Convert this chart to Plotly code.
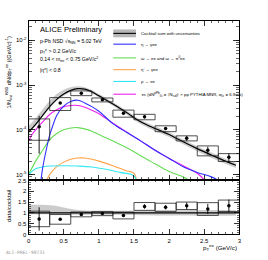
import plotly.graph_objects as go

# ---------------- data ----------------
bin_lo = [0.0, 0.3, 0.6, 0.9, 1.2, 1.5, 1.8, 2.1, 2.4, 2.7]
bin_hi = [0.3, 0.6, 0.9, 1.2, 1.5, 1.8, 2.1, 2.4, 2.7, 3.0]
pt_center = [0.15, 0.45, 0.75, 1.05, 1.35, 1.65, 1.95, 2.25, 2.55, 2.85]
data_val = [1.17e-4, 3.98e-4, 6.6e-4, 4.68e-4, 2.34e-4, 1.95e-4, 1.07e-4, 6.5e-5, 3.5e-5, 2.45e-5]
stat_rel = [0.75, 0.05, 0.04, 0.04, 0.06, 0.08, 0.08, 0.12, 0.20, 0.22]
sys_rel = [0.50, 0.32, 0.12, 0.10, 0.18, 0.14, 0.15, 0.13, 0.25, 0.20]

ratio_val = [0.72, 0.70, 0.93, 0.97, 0.88, 1.30, 1.26, 1.33, 1.18, 1.33]

cocktail_x = [0.0, 0.1, 0.2, 0.3, 0.4, 0.5, 0.6, 0.7, 0.8, 0.9, 1.0, 1.2, 1.4, 1.6, 1.8, 2.0, 2.2, 2.4, 2.6, 2.8, 2.95]
cocktail_y = [8.9e-5, 1.32e-4, 2.1e-4, 3.3e-4, 4.8e-4, 6.3e-4, 7.6e-4, 8.3e-4, 8.1e-4, 7.1e-4, 5.75e-4,
              3.8e-4, 2.4e-4, 1.5e-4, 1.07e-4, 7.9e-5, 5.4e-5, 3.8e-5, 2.75e-5, 2.0e-5, 1.62e-5]
cocktail_unc_up = [0.38, 0.38, 0.38, 0.36, 0.32, 0.25, 0.18, 0.13, 0.11, 0.10, 0.10,
                   0.10, 0.10, 0.11, 0.12, 0.12, 0.12, 0.13, 0.13, 0.13, 0.13]
cocktail_unc_dn = [0.06, 0.06, 0.06, 0.07, 0.07, 0.08, 0.08, 0.08, 0.08, 0.08, 0.08,
                   0.09, 0.10, 0.11, 0.12, 0.12, 0.12, 0.13, 0.13, 0.13, 0.13]

eta_x = [0.17, 0.2, 0.25, 0.3, 0.35, 0.4, 0.5, 0.6, 0.7, 0.8, 0.9, 1.0, 1.2, 1.4, 1.6, 1.8, 2.0, 2.2, 2.4, 2.6, 2.69]
eta_y = [6.3e-6, 1.4e-5, 3.5e-5, 7.6e-5, 1.32e-4, 2.1e-4, 3.4e-4, 4.3e-4, 4.6e-4, 4.0e-4, 3.3e-4, 2.6e-4,
         1.38e-4, 8.7e-5, 5.6e-5, 3.5e-5, 2.3e-5, 1.5e-5, 1.12e-5, 8.9e-6, 7.6e-6]

omega_x = [0.0, 0.1, 0.2, 0.3, 0.4, 0.5, 0.6, 0.7, 0.8, 0.9, 1.0, 1.2, 1.4, 1.6, 1.8, 2.0, 2.2, 2.3]
omega_y = [1.0e-5, 2.0e-5, 3.5e-5, 6.0e-5, 8.3e-5, 1.0e-4, 1.1e-4, 1.12e-4, 1.05e-4, 9.3e-5, 7.9e-5,
           5.6e-5, 4.0e-5, 2.6e-5, 1.74e-5, 1.17e-5, 8.9e-6, 7.1e-6]

etap_x = [0.25, 0.3, 0.35, 0.4, 0.5, 0.6, 0.7, 0.8, 0.9, 1.0, 1.2, 1.4, 1.5, 1.56]
etap_y = [7.1e-6, 1.0e-5, 1.26e-5, 1.51e-5, 1.9e-5, 2.2e-5, 2.34e-5, 2.34e-5, 2.2e-5, 2.0e-5,
          1.58e-5, 1.2e-5, 1.07e-5, 4.0e-6]

rho_x = [0.0, 0.1, 0.2, 0.3, 0.5, 0.7, 0.9, 1.1, 1.3, 1.5, 1.56]
rho_y = [1.0e-5, 1.35e-5, 1.48e-5, 1.55e-5, 1.58e-5, 1.55e-5, 1.48e-5, 1.32e-5, 1.12e-5, 9.3e-6, 4.0e-6]

ccbar_x = [0.0, 0.05, 0.1, 0.2, 0.3, 0.4, 0.5, 0.6, 0.7, 0.8, 0.9, 1.0, 1.2, 1.4, 1.6, 1.8, 2.0, 2.2, 2.4, 2.5]
ccbar_y = [5.6e-5, 7.9e-5, 1.0e-4, 1.5e-4, 2.2e-4, 2.8e-4, 3.3e-4, 3.5e-4, 3.5e-4, 3.2e-4, 2.75e-4,
           2.3e-4, 1.4e-4, 8.9e-5, 5.6e-5, 3.5e-5, 2.3e-5, 1.58e-5, 1.07e-5, 7.6e-6]

legend_labels = [
    "Cocktail sum with uncertainties",
    "\u03b7 \u2192 \u03b3ee",
    "\u03c9 \u2192 ee and \u03c9 \u2192 \u03c0<sup>0</sup>ee",
    "\u03b7' \u2192 \u03b3ee",
    "\u03c1 \u2192 ee",
    "c\u0305c (dN<sup>pPb</sup><sub>c\u0305c</sub> = \u27e8N<sub>coll</sub>\u27e9 \u00d7 pp PYTHIA MNR, \u03c3<sub>c\u0305c</sub> = 6.9mb)",
]
info_lines = [
    "p-Pb NSD \u221as<sub>NN</sub> = 5.02 TeV",
    "p<sub>T</sub><sup>e</sup> > 0.2 GeV/<i>c</i>",
    "0.14 < m<sub>ee</sub> < 0.75 GeV/<i>c</i><sup>2</sup>",
    "|\u03b7<sup>e</sup>| < 0.8",
]

# ---------------- styles ----------------
W, H = 268, 260
FONT = "Liberation Sans, Arial, sans-serif"
C_ETA = "#3030ff"
C_OMEGA = "#66dd55"
C_ETAP = "#ffa24a"
C_RHO = "#33e8f0"
C_CC = "#ee22ee"
C_BAND = "rgba(185,185,185,0.75)"


def px_x(p):
    return p / W


def px_y(p):
    return 1 - p / H


fig = go.Figure()

# cocktail band (top)
fig.add_trace(go.Scatter(x=cocktail_x, y=[v * (1 + u) for v, u in zip(cocktail_y, cocktail_unc_up)],
                         mode="lines", line=dict(width=0, shape="spline"), hoverinfo="skip", showlegend=False,
                         xaxis="x", yaxis="y"))
fig.add_trace(go.Scatter(x=cocktail_x, y=[v * (1 - u) for v, u in zip(cocktail_y, cocktail_unc_dn)],
                         mode="lines", line=dict(width=0, shape="spline"), fill="tonexty", fillcolor=C_BAND,
                         hoverinfo="skip", showlegend=False, xaxis="x", yaxis="y"))

# components
for xs, ys, col in [(omega_x, omega_y, C_OMEGA), (etap_x, etap_y, C_ETAP), (rho_x, rho_y, C_RHO),
                    (ccbar_x, ccbar_y, C_CC), (eta_x, eta_y, C_ETA)]:
    fig.add_trace(go.Scatter(x=xs, y=ys, mode="lines", line=dict(color=col, width=1.1, shape="spline"),
                             showlegend=False, xaxis="x", yaxis="y"))

# cocktail sum line
fig.add_trace(go.Scatter(x=cocktail_x, y=cocktail_y, mode="lines", line=dict(color="black", width=1.2, shape="spline"),
                         showlegend=False, xaxis="x", yaxis="y"))


def boxes(vals, rels):
    bx, by = [], []
    for lo, hi, v, r in zip(bin_lo, bin_hi, vals, rels):
        y0, y1 = v * (1 - r), v * (1 + r)
        bx += [lo, hi, hi, lo, lo, None]
        by += [y0, y0, y1, y1, y0, None]
    return bx, by


# systematic boxes top
bx, by = boxes(data_val, sys_rel)
fig.add_trace(go.Scatter(x=bx, y=by, mode="lines", line=dict(color="#222222", width=0.8),
                         showlegend=False, xaxis="x", yaxis="y"))
# data points top
fig.add_trace(go.Scatter(x=pt_center, y=data_val, mode="markers",
                         marker=dict(color="black", size=3.5, symbol="circle"),
                         error_y=dict(type="data", array=[v * r for v, r in zip(data_val, stat_rel)],
                                      color="black", thickness=0.9, width=0),
                         showlegend=False, xaxis="x", yaxis="y"))

# ratio band
fig.add_trace(go.Scatter(x=cocktail_x, y=[1 + u for u in cocktail_unc_up], mode="lines",
                         line=dict(width=0, shape="spline"),
                         hoverinfo="skip", showlegend=False, xaxis="x2", yaxis="y2"))
fig.add_trace(go.Scatter(x=cocktail_x, y=[1 - u for u in cocktail_unc_dn], mode="lines",
                         line=dict(width=0, shape="spline"),
                         fill="tonexty", fillcolor=C_BAND, hoverinfo="skip", showlegend=False,
                         xaxis="x2", yaxis="y2"))
# unity line
fig.add_shape(type="line", xref="x2", yref="y2", x0=0, x1=3, y0=1, y1=1, line=dict(color="black", width=1.2))

rbx, rby = boxes(ratio_val, sys_rel)
fig.add_trace(go.Scatter(x=rbx, y=rby, mode="lines", line=dict(color="#222222", width=0.8),
                         showlegend=False, xaxis="x2", yaxis="y2"))
fig.add_trace(go.Scatter(x=pt_center, y=ratio_val, mode="markers",
                         marker=dict(color="black", size=3.5, symbol="circle"),
                         error_y=dict(type="data", array=[v * r for v, r in zip(ratio_val, stat_rel)],
                                      color="black", thickness=0.9, width=0),
                         showlegend=False, xaxis="x2", yaxis="y2"))

# ---------------- axes ----------------
dom_x = [px_x(27), px_x(241)]
common_x = dict(domain=dom_x, range=[0, 3], showline=True, linecolor="black", linewidth=1, mirror="allticks",
                ticks="inside", ticklen=5, tickcolor="black", tickwidth=0.8, dtick=0.5, tick0=0,
                minor=dict(ticks="inside", ticklen=2.5, dtick=0.1, tickcolor="black", tickwidth=0.6),
                showgrid=False, zeroline=False, tickfont=dict(family=FONT, size=6, color="black"))

fig.update_layout(
    width=W, height=H, margin=dict(l=0, r=0, t=0, b=0), autosize=False,
    paper_bgcolor="white", plot_bgcolor="white", showlegend=False,
    xaxis=dict(common_x, anchor="y", showticklabels=False),
    xaxis2=dict(common_x, anchor="y2", showticklabels=True, ticklen=5),
    yaxis=dict(type="log", domain=[px_y(181), px_y(19)], range=[-5.11, -1.56], anchor="x",
               showline=True, linecolor="black", linewidth=1, mirror="allticks",
               ticks="inside", ticklen=6, tickcolor="black", tickwidth=0.8,
               tickvals=[1e-5, 1e-4, 1e-3, 1e-2],
               ticktext=["10<sup>-5</sup>", "10<sup>-4</sup>", "10<sup>-3</sup>", "10<sup>-2</sup>"],
               minor=dict(ticks="inside", ticklen=3, dtick="D1", tickcolor="black", tickwidth=0.6),
               showgrid=False, zeroline=False, tickfont=dict(family=FONT, size=6, color="black")),
    yaxis2=dict(domain=[px_y(237), px_y(181)], range=[0, 2.55], anchor="x2",
                showline=True, linecolor="black", linewidth=1, mirror="allticks",
                ticks="inside", ticklen=5, tickcolor="black", tickwidth=0.8, dtick=0.5, tick0=0,
                minor=dict(ticks="inside", ticklen=2.5, dtick=0.1, tickcolor="black", tickwidth=0.6),
                showgrid=False, zeroline=False, tickfont=dict(family=FONT, size=6, color="black")),
)

# ---------------- legend (manual) ----------------
leg_y = [32, 43, 57, 69, 81, 94]
leg_cols = ["black", C_ETA, C_OMEGA, C_ETAP, C_RHO, C_CC]
for i, (lab, col, yy) in enumerate(zip(legend_labels, leg_cols, leg_y)):
    if i == 0:
        fig.add_shape(type="rect", xref="paper", yref="paper", x0=px_x(113), x1=px_x(136),
                      y0=px_y(36), y1=px_y(28), fillcolor="rgba(175,175,175,0.9)", line=dict(width=0))
    fig.add_shape(type="line", xref="paper", yref="paper", x0=px_x(113), x1=px_x(136),
                  y0=px_y(yy), y1=px_y(yy), line=dict(color=col, width=1.1))
    fig.add_annotation(xref="paper", yref="paper", x=px_x(139), y=px_y(yy), xanchor="left", yanchor="middle",
                       text=lab, showarrow=False, font=dict(family=FONT, size=4.3, color="black"))

# ---------------- texts ----------------
fig.add_annotation(xref="paper", yref="paper", x=px_x(37), y=px_y(28), xanchor="left", yanchor="middle",
                   text="ALICE Preliminary", showarrow=False, font=dict(family=FONT, size=7.6, color="black"))
for t, yy in zip(info_lines, [40, 50, 59, 69]):
    fig.add_annotation(xref="paper", yref="paper", x=px_x(37), y=px_y(yy), xanchor="left", yanchor="middle",
                       text=t, showarrow=False, font=dict(family=FONT, size=5.2, color="black"))

fig.add_annotation(xref="paper", yref="paper", x=px_x(7), y=px_y(72), xanchor="center", yanchor="middle",
                   textangle=-90, showarrow=False,
                   text="1/N<sub>evt</sub><sup>NSD</sup> dN/dp<sub>T</sub><sup>ee</sup> ((GeV/<i>c</i>)<sup>-1</sup>)",
                   font=dict(family=FONT, size=5.5, color="black"))
fig.add_annotation(xref="paper", yref="paper", x=px_x(7), y=px_y(208), xanchor="center", yanchor="middle",
                   textangle=-90, showarrow=False, text="data/cocktail",
                   font=dict(family=FONT, size=5.8, color="black"))
fig.add_annotation(xref="paper", yref="paper", x=px_x(241), y=px_y(250), xanchor="right", yanchor="middle",
                   showarrow=False, text="p<sub>T</sub><sup>ee</sup> (GeV/<i>c</i>)",
                   font=dict(family=FONT, size=6.2, color="black"))
fig.add_annotation(xref="paper", yref="paper", x=px_x(2), y=px_y(255), xanchor="left", yanchor="middle",
                   showarrow=False, text="ALI-PREL-99731",
                   font=dict(family="DejaVu Sans Mono, monospace", size=4.6, color="#9a9a9a"))

fig.write_html("out.html", config={"displayModeBar": False, "staticPlot": True},
               post_script="document.body.style.margin='0';document.body.style.padding='0';"
                           "document.documentElement.style.overflow='hidden';")
